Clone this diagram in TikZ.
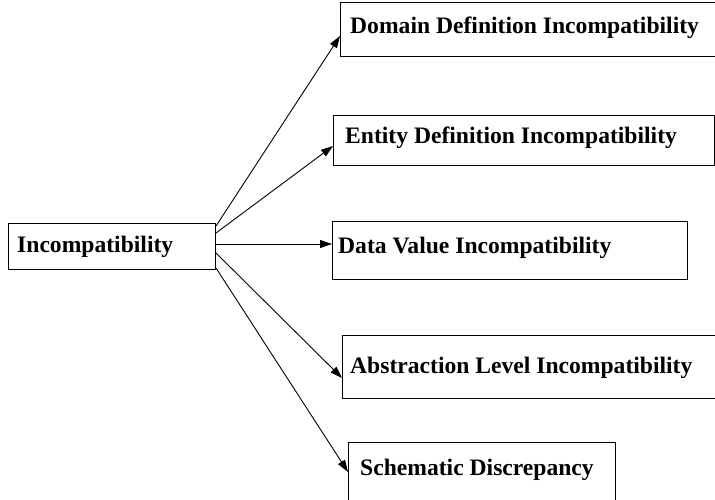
\documentclass[tikz,border=0pt]{standalone}
\usepackage{fontspec}
\setmainfont{Liberation Serif}
\usetikzlibrary{arrows.meta}
\begin{document}
\begin{tikzpicture}[x=1pt,y=-1pt,
  box/.style={draw, line width=1pt, inner sep=0pt, anchor=north west},
  lbl/.style={anchor=base west, inner sep=0pt, font=\bfseries\fontsize{23.6}{28}\selectfont},
  arr/.style={line width=0.9pt, -{Triangle[length=12pt,width=8pt]}}]
\clip (0,0) rectangle (715,499);
\useasboundingbox (0,0) rectangle (715,499);
% boxes
\node[box, minimum width=207pt, minimum height=46pt] (inc) at (8,223) {};
\node[box, minimum width=420pt, minimum height=54pt] (dom) at (340,2) {};
\node[box, minimum width=381pt, minimum height=50pt] (ent) at (333,115) {};
\node[box, minimum width=355pt, minimum height=58pt] (dat) at (332,221) {};
\node[box, minimum width=420pt, minimum height=63pt] (abs) at (342,335) {};
\node[box, minimum width=267pt, minimum height=90pt] (sch) at (348,442) {};
% labels
\node[lbl] (tinc) at (17,252) {Incompatibility};
\node[lbl] (tdom) at (350,33) {Domain Definition Incompatibility};
\node[lbl] (tent) at (345,143) {Entity Definition Incompatibility};
\node[lbl] (tdat) at (338,253) {Data Value Incompatibility};
\node[lbl] (tabs) at (350,373) {Abstraction Level Incompatibility};
\node[lbl] (tsch) at (360,475) {Schematic Discrepancy};
% connectors
\draw[arr] (inc.east |- 0,226) -- (dom.west |- 0,36);
\draw[arr] (inc.east |- 0,233) -- (ent.west |- 0,146);
\draw[arr] (inc.east |- 0,244) -- (dat.west |- 0,244);
\draw[arr] (inc.east |- 0,253) -- (abs.west |- 0,378);
\draw[arr] (inc.east |- 0,268) -- (sch.west |- 0,472);
\end{tikzpicture}
\end{document}
